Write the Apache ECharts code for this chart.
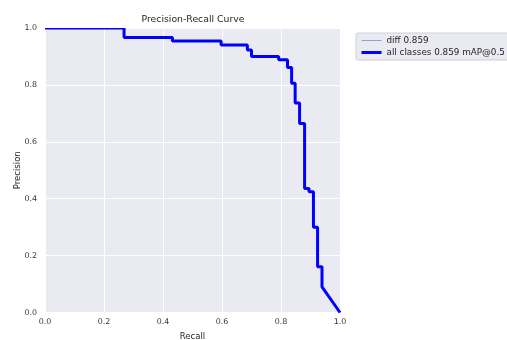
<!DOCTYPE html>
<html>
<head>
<meta charset="utf-8">
<script src="https://cdn.jsdelivr.net/npm/echarts@6/dist/echarts.min.js"></script>
<style>
html,body{margin:0;padding:0;background:#fff;}
#c{width:507px;height:340px;}
</style>
</head>
<body>
<div id="c"></div>
<script>
// Corner points of the step-shaped precision-recall curve
const recall    = [0, 0.268, 0.268, 0.432, 0.432, 0.597, 0.597, 0.686, 0.686, 0.700, 0.700, 0.792, 0.792, 0.822, 0.822, 0.836, 0.836, 0.848, 0.848, 0.863, 0.863, 0.880, 0.880, 0.895, 0.895, 0.910, 0.910, 0.924, 0.924, 0.939, 0.939, 1.0];
const precision = [1, 1, 0.967, 0.967, 0.954, 0.954, 0.940, 0.940, 0.923, 0.923, 0.900, 0.900, 0.888, 0.888, 0.861, 0.861, 0.806, 0.806, 0.736, 0.736, 0.664, 0.664, 0.436, 0.436, 0.424, 0.424, 0.300, 0.300, 0.161, 0.161, 0.090, 0.0];
const seriesNames = ['diff 0.859', 'all classes 0.859 mAP@0.5'];

const pts = recall.map((r, i) => [r, precision[i]]);
const FONT = 'DejaVu Sans';

const chart = echarts.init(document.getElementById('c'), null, {renderer: 'canvas'});
chart.setOption({
  animation: false,
  backgroundColor: '#ffffff',
  title: {
    text: 'Precision-Recall Curve',
    left: 188, top: 10, textAlign: 'center', z: 10,
    textStyle: {fontFamily: FONT, fontSize: 9.3, fontWeight: 'normal', color: '#262626'}
  },
  legend: {
    orient: 'vertical',
    left: 356, top: 33,
    padding: [3, 8, 3, 4],
    itemWidth: 20, itemHeight: 9, itemGap: 3,
    backgroundColor: '#eaeaf2',
    borderColor: '#cfcfd6', borderWidth: 1, borderRadius: 2,
    itemStyle: {opacity: 0},
    textStyle: {fontFamily: FONT, fontSize: 8.8, color: '#262626'},
    data: [
      {name: seriesNames[0], lineStyle: {color: '#8da3cf', width: 1}},
      {name: seriesNames[1], lineStyle: {color: '#0000ff', width: 3}}
    ]
  },
  grid: {left: 45, right: 167, top: 28, bottom: 27.5, show: true, backgroundColor: '#eaeaf2', borderWidth: 0,
    containLabel: false, outerBoundsMode: 'none'},
  xAxis: {
    type: 'value', min: 0, max: 1, interval: 0.2,
    name: 'Recall', nameLocation: 'middle', nameGap: 20, nameMoveOverlap: false,
    nameTextStyle: {fontFamily: FONT, fontSize: 8.5, color: '#262626'},
    axisLine: {show: false}, axisTick: {show: false},
    axisLabel: {fontFamily: FONT, fontSize: 7.9, color: '#333', margin: 5,
      formatter: v => v.toFixed(1)},
    splitLine: {show: true, lineStyle: {color: '#ffffff', width: 1}}
  },
  yAxis: {
    type: 'value', min: 0, max: 1, interval: 0.2,
    name: 'Precision', nameLocation: 'middle', nameGap: 23, nameRotate: 90, nameMoveOverlap: false,
    nameTextStyle: {fontFamily: FONT, fontSize: 8.5, color: '#262626'},
    axisLine: {show: false}, axisTick: {show: false},
    axisLabel: {fontFamily: FONT, fontSize: 7.9, color: '#333', margin: 8,
      formatter: v => v.toFixed(1)},
    splitLine: {show: true, lineStyle: {color: '#ffffff', width: 1}}
  },
  graphic: [
    // white mask above the plot area so the thick line is clipped at the frame like the reference
    {type: 'rect', left: 44, top: 24, z: 5, silent: true,
     shape: {width: 298, height: 4}, style: {fill: '#ffffff'}}
  ],
  series: [
    {
      name: seriesNames[0], type: 'line', data: pts, symbol: 'none', clip: true,
      lineStyle: {color: '#4c72b0', width: 1}, itemStyle: {color: '#4c72b0'}
    },
    {
      name: seriesNames[1], type: 'line', data: pts, symbol: 'none', clip: true,
      lineStyle: {color: '#0000ff', width: 3}, itemStyle: {color: '#0000ff'}
    }
  ]
});
</script>
</body>
</html>
